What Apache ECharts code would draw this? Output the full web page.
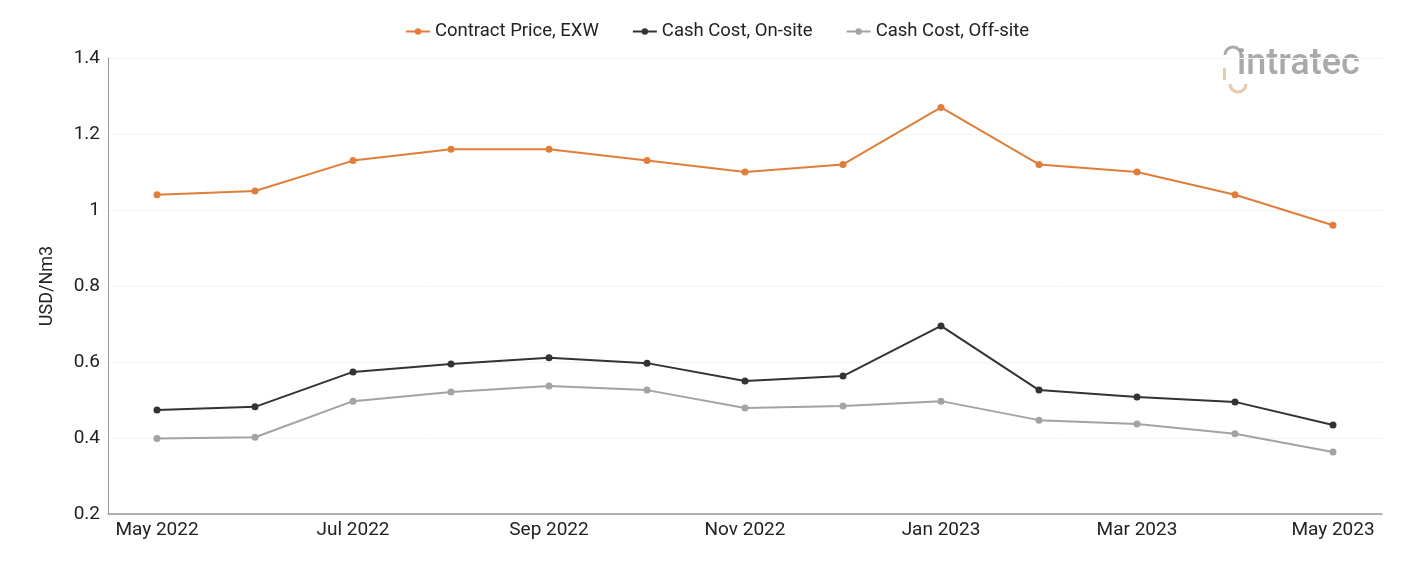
<!DOCTYPE html>
<html><head><meta charset="utf-8">
<script src="https://cdn.jsdelivr.net/npm/echarts@6/dist/echarts.min.js"></script>
<style>html,body{margin:0;padding:0;background:#fff}#c{width:1401px;height:561px}</style>
</head><body><div id="c"></div>
<script>
const categories = ['May 2022','Jun 2022','Jul 2022','Aug 2022','Sep 2022','Oct 2022','Nov 2022','Dec 2022','Jan 2023','Feb 2023','Mar 2023','Apr 2023','May 2023'];
const contractPrice = [1.04,1.05,1.13,1.16,1.16,1.13,1.10,1.12,1.27,1.12,1.10,1.04,0.96];
const cashOnsite = [0.474,0.482,0.574,0.595,0.611,0.597,0.55,0.563,0.695,0.526,0.508,0.495,0.434];
const cashOffsite = [0.399,0.402,0.497,0.521,0.537,0.526,0.479,0.484,0.497,0.447,0.437,0.411,0.363];
const seriesNames = ['Contract Price, EXW','Cash Cost, On-site','Cash Cost, Off-site'];
const colors = ['#E07D3A','#333333','#A3A3A3'];

const chart = echarts.init(document.getElementById('c'));
const mk = (name, data, color) => ({
  name, type:'line', data, color,
  symbol:'circle', symbolSize:7,
  lineStyle:{width:2,color}, itemStyle:{color},
  animation:false
});
chart.setOption({
  animation:false,
  textStyle:{fontFamily:'Roboto'},
  legend:{
    top:17, left:400, itemGap:33, itemWidth:24, itemHeight:8,
    textStyle:{fontSize:18.5,color:'#222',fontFamily:'Roboto'},
    data:seriesNames
  },
  grid:{left:108,right:19,top:58,bottom:47,containLabel:false},
  xAxis:{
    type:'category', data:categories, boundaryGap:true,
    axisLine:{lineStyle:{color:'#999',width:1.5}},
    axisTick:{show:false},
    axisLabel:{interval:1,fontSize:19,color:'#222',margin:7,fontFamily:'Roboto'}
  },
  yAxis:{
    type:'value', min:0.2, max:1.4, interval:0.2,
    name:'USD/Nm3', nameLocation:'middle', nameGap:52, nameRotate:90,
    nameTextStyle:{fontSize:18,color:'#222',fontFamily:'Roboto'},
    axisLine:{show:true,lineStyle:{color:'#999',width:1}},
    axisTick:{show:false},
    axisLabel:{fontSize:19,color:'#222',margin:8,fontFamily:'Roboto',
      formatter:v=>String(+v.toFixed(1))},
    splitLine:{lineStyle:{color:'#f3f3f3',width:1}}
  },
  graphic:[
    {type:'text',left:1237,top:47,style:{text:'intratec',fontSize:36,fontFamily:'Roboto',fontWeight:500,fill:'#9a9a9a',opacity:0.85}},
    {type:'arc',shape:{cx:1233,cy:55,r:8,startAngle:Math.PI,endAngle:2*Math.PI},style:{stroke:'#9a9a9a',lineWidth:3,fill:null,opacity:0.85}},
    {type:'arc',shape:{cx:1238,cy:84,r:8,startAngle:0,endAngle:Math.PI},style:{stroke:'#E8C9A8',lineWidth:3,fill:null}},
    {type:'rect',shape:{x:1223,y:68,width:3,height:12},style:{fill:'#E8C9A8'}}
  ],
  series:[
    mk(seriesNames[0],contractPrice,colors[0]),
    mk(seriesNames[1],cashOnsite,colors[1]),
    mk(seriesNames[2],cashOffsite,colors[2])
  ]
});
</script></body></html>
